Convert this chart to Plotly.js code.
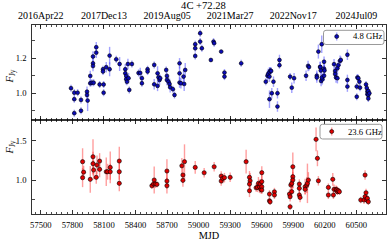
<!DOCTYPE html>
<html>
<head>
<meta charset="utf-8">
<script src="https://cdn.plot.ly/plotly-3.0.1.min.js"></script>
<style>html,body{margin:0;padding:0;background:#fff;}#chart{width:389px;height:241px;}</style>
</head>
<body>
<div id="chart"></div>
<script>
// 4.8 GHz light curve (MJD, flux density in Jy, 1-sigma error)
var mjd48 = [57787,57818,57818,57818,57850,57882,57882,57939,57939,57945,57970,57970,57985,57996,57996,57996,58002,58027,58027,58059,58091,58091,58097,58097,58122,58154,58154,58217,58249,58303,58303,58312,58312,58319,58328,58334,58341,58366,58429,58445,58461,58461,58515,58515,58578,58578,58610,58619,58610,58629,58635,58692,58699,58699,58714,58724,58730,58756,58771,58819,58819,58819,58832,58857,58873,58863,58968,58968,58968,59015,59015,59031,59117,59142,59148,59215,59246,59246,59405,59639,59655,59661,59674,59683,59690,59674,59712,59696,59674,59750,59750,59769,59769,59870,59886,59908,60022,60041,60050,60124,60124,60139,60155,60162,60158,60165,60171,60177,60172,60193,60193,60197,60193,60288,60298,60298,60307,60320,60320,60329,60345,60352,60415,60415,60415,60510,60504,60504,60519,60529,60535,60592,60599,60605,60605,60614,60614,60614,60624];
var flux48 = [1.029,1.003,0.966,0.886,1.003,0.962,0.900,1.009,0.990,0.958,1.099,1.057,1.060,1.171,1.156,1.210,1.060,1.263,1.232,1.050,1.137,1.124,1.050,1.003,1.149,1.215,1.137,1.194,1.167,1.137,1.114,1.099,1.080,1.066,1.167,1.086,1.019,1.167,1.116,1.116,1.086,1.057,1.137,1.124,1.162,1.051,1.114,1.091,1.042,1.076,1.086,1.133,1.099,1.076,1.066,1.053,1.034,1.023,0.990,1.171,1.114,1.061,1.057,1.095,1.133,1.053,1.280,1.257,1.213,1.343,1.295,1.257,1.190,1.295,1.286,1.238,1.118,1.095,1.171,1.066,1.100,1.110,1.120,1.130,1.127,1.095,1.066,1.000,0.966,1.000,0.924,1.190,1.160,1.095,1.032,1.086,1.100,1.156,1.150,1.100,1.090,1.238,1.150,1.130,1.150,1.070,1.280,1.080,1.090,1.180,1.140,1.130,1.100,1.166,1.127,1.110,1.090,1.086,1.143,1.160,1.185,1.190,1.220,1.076,1.038,1.090,1.038,0.980,1.086,1.066,1.032,1.050,1.030,1.010,0.994,1.013,0.990,0.970,1.000];
var err48 = [0.02,0.02,0.02,0.02,0.02,0.02,0.02,0.03,0.03,0.06,0.03,0.02,0.02,0.03,0.03,0.03,0.02,0.03,0.03,0.02,0.02,0.02,0.02,0.02,0.03,0.05,0.04,0.02,0.04,0.03,0.03,0.03,0.03,0.02,0.03,0.03,0.02,0.02,0.02,0.03,0.02,0.02,0.02,0.02,0.02,0.03,0.04,0.03,0.03,0.03,0.02,0.02,0.02,0.03,0.03,0.03,0.03,0.02,0.02,0.03,0.04,0.03,0.03,0.04,0.04,0.04,0.02,0.02,0.02,0.02,0.02,0.02,0.01,0.02,0.02,0.01,0.02,0.02,0.02,0.02,0.03,0.03,0.03,0.02,0.02,0.03,0.03,0.03,0.05,0.03,0.03,0.03,0.02,0.02,0.03,0.03,0.03,0.03,0.02,0.03,0.03,0.04,0.03,0.03,0.03,0.03,0.05,0.03,0.03,0.03,0.03,0.03,0.03,0.03,0.03,0.03,0.03,0.03,0.03,0.03,0.03,0.02,0.03,0.03,0.03,0.02,0.02,0.02,0.02,0.02,0.02,0.02,0.02,0.02,0.02,0.02,0.02,0.02,0.02];

// 23.6 GHz light curve
var mjd236 = [57897,57897,57907,57970,57996,57996,58002,58027,58034,58059,58059,58122,58135,58160,58160,58246,58246,58246,58556,58572,58578,58588,58604,58699,58699,58699,58841,58851,58851,58866,58968,59053,59148,59215,59215,59230,59246,59300,59452,59484,59490,59484,59484,59547,59560,59569,59579,59585,59592,59601,59601,59601,59601,59674,59674,59680,59721,59721,59870,59864,59870,59877,59886,59896,59896,59896,59886,59958,59958,59958,59965,60013,60013,60029,60035,60044,60117,60130,60139,60234,60234,60276,60282,60288,60307,60314,60320,60329,60339,60542,60583,60592,60583,60573,60599,60605,60614];
var flux236 = [1.232,1.030,1.100,1.009,1.295,1.207,1.127,1.034,1.190,1.240,1.135,1.105,1.105,1.160,1.105,1.240,1.105,0.958,0.928,0.950,1.000,0.950,0.945,1.114,0.987,0.928,1.180,1.063,0.996,1.232,1.160,1.092,1.168,1.050,0.987,1.020,1.030,1.034,1.232,1.034,0.990,0.949,0.864,0.902,0.907,0.958,0.915,0.949,0.881,0.979,0.915,0.873,1.093,0.822,0.737,0.724,0.851,0.810,0.662,0.822,0.788,0.937,0.958,1.042,1.168,1.000,0.852,0.949,0.895,0.810,0.780,0.915,0.882,0.937,0.958,1.000,1.515,1.275,0.990,0.907,0.810,1.009,0.810,0.882,0.882,0.873,0.852,0.865,0.852,0.747,1.063,0.839,0.789,0.747,0.747,0.768,0.725];
var err236 = [0.17,0.12,0.08,0.17,0.22,0.15,0.12,0.08,0.12,0.10,0.10,0.18,0.10,0.20,0.10,0.18,0.10,0.10,0.04,0.05,0.17,0.05,0.04,0.15,0.10,0.10,0.10,0.10,0.08,0.22,0.08,0.06,0.06,0.06,0.06,0.06,0.06,0.06,0.15,0.08,0.10,0.10,0.08,0.05,0.06,0.08,0.08,0.06,0.05,0.10,0.06,0.05,0.08,0.05,0.04,0.04,0.05,0.05,0.04,0.06,0.06,0.08,0.10,0.15,0.18,0.10,0.06,0.06,0.06,0.06,0.06,0.10,0.06,0.10,0.25,0.10,0.15,0.10,0.06,0.05,0.05,0.08,0.05,0.06,0.05,0.05,0.04,0.04,0.04,0.04,0.06,0.05,0.05,0.05,0.04,0.04,0.04];

// Calendar labels for the top axis (MJD -> date)
var dateTickMJD = [57500,58100,58700,59300,59900,60500];
var dateTickText = ['2016Apr22','2017Dec13','2019Aug05','2021Mar27','2022Nov17','2024Jul09'];

// Legend entries
var seriesNames = ['4.8 GHz', '23.6 GHz'];
var seriesFill = ['#0b0bb8', '#e00000'];
var seriesErrColor = ['rgba(70,70,255,0.5)', 'rgba(255,40,40,0.45)'];

var FONT = 'Liberation Serif, Times New Roman, serif';

var traces = [
  {
    x: mjd48, y: flux48, xaxis: 'x2', yaxis: 'y2', type: 'scatter', mode: 'markers',
    name: seriesNames[0], showlegend: false,
    marker: {size: 3.8, color: seriesFill[0], line: {color: '#000', width: 0.6}},
    error_y: {type: 'data', array: err48, visible: true, color: seriesErrColor[0], thickness: 1.4, width: 0}
  },
  {
    x: mjd236, y: flux236, xaxis: 'x', yaxis: 'y', type: 'scatter', mode: 'markers',
    name: seriesNames[1], showlegend: false,
    marker: {size: 4.2, color: seriesFill[1], line: {color: '#000', width: 0.6}},
    error_y: {type: 'data', array: err236, visible: true, color: seriesErrColor[1], thickness: 1.4, width: 0}
  }
];

var L = 32, R = 3, T = 25, B = 27, W = 389, H = 241;
var pw = W - L - R, ph = H - T - B;
var split = (214 - 120) / ph;
function px2x(p) { return (p - L) / pw; }
function py2y(p) { return (H - B - p) / ph; }

function roundedBox(x0, y0, x1, y1, r) {
  var X = function (p) { return px2x(p).toFixed(5); };
  var Y = function (p) { return py2y(p).toFixed(5); };
  return 'M' + X(x0 + r) + ',' + Y(y0) +
    ' L' + X(x1 - r) + ',' + Y(y0) + ' Q' + X(x1) + ',' + Y(y0) + ' ' + X(x1) + ',' + Y(y0 + r) +
    ' L' + X(x1) + ',' + Y(y1 - r) + ' Q' + X(x1) + ',' + Y(y1) + ' ' + X(x1 - r) + ',' + Y(y1) +
    ' L' + X(x0 + r) + ',' + Y(y1) + ' Q' + X(x0) + ',' + Y(y1) + ' ' + X(x0) + ',' + Y(y1 - r) +
    ' L' + X(x0) + ',' + Y(y0 + r) + ' Q' + X(x0) + ',' + Y(y0) + ' ' + X(x0 + r) + ',' + Y(y0) + ' Z';
}

// legend box geometry (pixels): [left, top, right, bottom, glyphX, glyphY, textX]
var legendBoxes = [
  [323.5, 30.3, 384, 44.5, 336.7, 36.5, 351],
  [320, 124.3, 382, 139, 331.7, 131.5, 346]
];

var shapes = [], annotations = [];
legendBoxes.forEach(function (b, i) {
  shapes.push({type: 'path', xref: 'paper', yref: 'paper', path: roundedBox(b[0], b[1], b[2], b[3], 2.5),
               fillcolor: '#fff', line: {color: '#999', width: 1}, layer: 'above'});
  shapes.push({type: 'line', xref: 'paper', yref: 'paper', x0: px2x(b[4]), x1: px2x(b[4]),
               y0: py2y(b[5] - 4), y1: py2y(b[5] + 4), line: {color: seriesErrColor[i], width: 1.4}, layer: 'above'});
  shapes.push({type: 'circle', xref: 'paper', yref: 'paper', xsizemode: 'pixel', ysizemode: 'pixel',
               xanchor: px2x(b[4]), yanchor: py2y(b[5]), x0: -2, x1: 2, y0: -2, y1: 2,
               fillcolor: seriesFill[i], line: {color: '#000', width: 0.6}, layer: 'above'});
  annotations.push({text: seriesNames[i], xref: 'paper', yref: 'paper', x: px2x(b[6]), y: py2y(b[5]),
                    xanchor: 'left', yanchor: 'middle', showarrow: false,
                    font: {family: FONT, size: 8.7, color: '#000'}});
});

annotations.push(
  {text: '<i>F</i><sub>Jy</sub>', xref: 'paper', yref: 'paper', x: px2x(9.5), y: py2y(77),
   textangle: -90, showarrow: false, xanchor: 'center', yanchor: 'middle',
   font: {family: FONT, size: 10.5, color: '#000'}},
  {text: '<i>F</i><sub>Jy</sub>', xref: 'paper', yref: 'paper', x: px2x(9.5), y: py2y(148),
   textangle: -90, showarrow: false, xanchor: 'center', yanchor: 'middle',
   font: {family: FONT, size: 10.5, color: '#000'}}
);

var axCommon = {
  showline: true, linecolor: '#000', linewidth: 0.8, mirror: 'allticks',
  ticks: 'inside', ticklen: 4, tickwidth: 0.8, tickcolor: '#000',
  showgrid: false, zeroline: false,
  tickfont: {family: FONT, size: 8.6, color: '#000'}
};

var layout = {
  width: W, height: H,
  margin: {l: L, r: R, t: T, b: B, pad: 0},
  paper_bgcolor: '#fff', plot_bgcolor: '#fff',
  font: {family: FONT, color: '#000'},
  showlegend: false,
  title: {text: '4C +72.28', font: {family: FONT, size: 10.6, color: '#000'},
          x: 203.5 / W, xref: 'container', xanchor: 'center', y: 1 - 5.5 / H, yref: 'container', yanchor: 'middle'},
  xaxis: Object.assign({}, axCommon, {
    anchor: 'y', domain: [0, 1], range: [57416, 60782],
    tick0: 57500, dtick: 300, tickformat: 'd',
    minor: {dtick: 50, tick0: 57500, ticks: 'inside', ticklen: 2, tickwidth: 0.7, tickcolor: '#000'},
    ticklabelstandoff: 3,
    title: {text: 'MJD', font: {family: FONT, size: 10.3, color: '#000'}, standoff: 2}
  }),
  xaxis2: Object.assign({}, axCommon, {
    anchor: 'y2', side: 'top', matches: 'x', range: [57416, 60782],
    tickmode: 'array', tickvals: dateTickMJD, ticktext: dateTickText,
    minor: {dtick: 50, tick0: 57500, ticks: 'inside', ticklen: 2, tickwidth: 0.7, tickcolor: '#000'},
    tickfont: {family: FONT, size: 10, color: '#000'},
    ticklabelstandoff: 1
  }),
  yaxis: Object.assign({}, axCommon, {
    anchor: 'x', domain: [0, split], range: [0.57, 1.76],
    tick0: 0, dtick: 0.5, tickformat: '.1f',
    minor: {dtick: 0.25, tick0: 0, ticks: 'inside', ticklen: 2.5, tickwidth: 0.7, tickcolor: '#000'},
    ticklabelstandoff: 3
  }),
  yaxis2: Object.assign({}, axCommon, {
    anchor: 'x2', domain: [split, 1], range: [0.847, 1.39],
    tick0: 0, dtick: 0.2, tickformat: '.1f',
    minor: {dtick: 0.1, tick0: 0, ticks: 'inside', ticklen: 2.5, tickwidth: 0.7, tickcolor: '#000'},
    ticklabelstandoff: 3
  }),
  shapes: shapes,
  annotations: annotations
};

Plotly.newPlot('chart', traces, layout, {displayModeBar: false, staticPlot: true});
</script>
</body>
</html>
